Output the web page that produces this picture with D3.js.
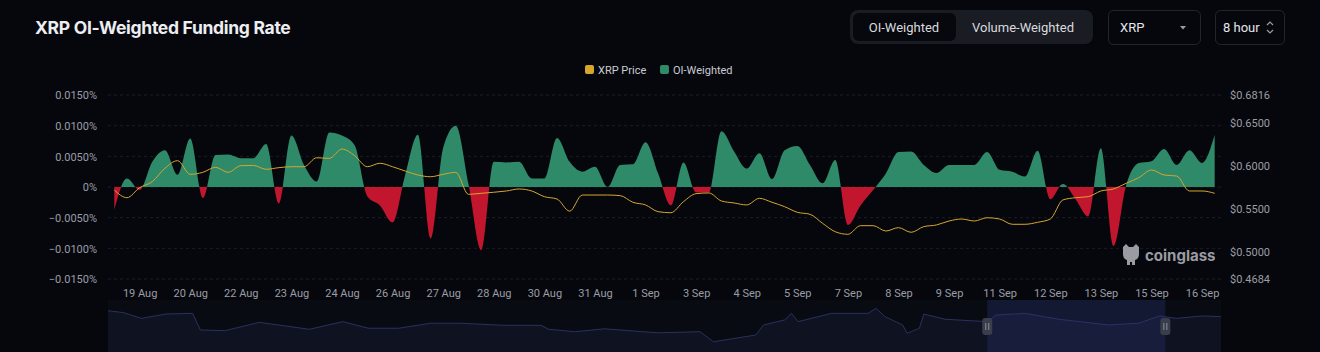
<!DOCTYPE html>
<html>
<head>
<meta charset="utf-8">
<script src="https://cdn.jsdelivr.net/npm/d3@7"></script>
<style>
  html, body { margin: 0; padding: 0; background: #06070d; }
  svg { display: block; }
  text { font-family: Roboto, "Noto Sans", sans-serif; }
  .axis-label { fill: #9a9da6; font-size: 11px; }
</style>
</head>
<body>
<div id="chart"></div>
<script>
// 8-hour funding rate (in %), from 18 Aug 16:00 to 16 Sep 16:00
const fundingRate = [
  -0.0037, 0.0014, -0.0005, 0.0041, 0.0060, 0.0020, 0.0079, -0.0018, 0.0052, 0.0053,
  0.0047, 0.0047, 0.0070, -0.0027, 0.0084, 0.0036, 0.0009, 0.0089, 0.0084, 0.0068,
  -0.0015, -0.0030, -0.0058, 0.0020, 0.0085, -0.0084, 0.0064, 0.0100, 0.0005, -0.0103,
  0.0041, 0.0040, 0.0041, 0.0014, 0.0014, 0.0080, 0.0041, 0.0025, 0.0033, 0.0000,
  0.0036, 0.0037, 0.0073, 0.0022, -0.0030, 0.0040, -0.0009, -0.0009, 0.0091, 0.0058,
  0.0030, 0.0055, 0.0013, 0.0060, 0.0067, 0.0036, 0.0006, 0.0044, -0.0062, -0.0030,
  -0.0005, 0.0022, 0.0057, 0.0058, 0.0036, 0.0023, 0.0036, 0.0036, 0.0036, 0.0057,
  0.0028, 0.0025, 0.0017, 0.0059, -0.0020, 0.0005, -0.0020, -0.0048, 0.0063, -0.0096,
  0.0003, 0.0039, 0.0042, 0.0062, 0.0036, 0.0060, 0.0039, 0.0085
];

// XRP price (USD) at the same timestamps
const xrpPrice = [
  0.5715, 0.5626, 0.5742, 0.5812, 0.5967, 0.6055, 0.5897, 0.5920, 0.5978, 0.5920,
  0.5997, 0.6000, 0.5955, 0.5974, 0.5985, 0.5985, 0.6089, 0.6082, 0.6190, 0.6113,
  0.5985, 0.6025, 0.5985, 0.5935, 0.5889, 0.5869, 0.5897, 0.5920, 0.5665, 0.5677,
  0.5689, 0.5704, 0.5727, 0.5704, 0.5638, 0.5611, 0.5470, 0.5657, 0.5657, 0.5657,
  0.5650, 0.5573, 0.5542, 0.5464, 0.5452, 0.5580, 0.5673, 0.5681, 0.5588, 0.5565,
  0.5542, 0.5619, 0.5573, 0.5522, 0.5457, 0.5434, 0.5329, 0.5232, 0.5202, 0.5302,
  0.5302, 0.5240, 0.5279, 0.5225, 0.5291, 0.5310, 0.5356, 0.5379, 0.5356, 0.5394,
  0.5379, 0.5318, 0.5318, 0.5341, 0.5379, 0.5600, 0.5626, 0.5638, 0.5704, 0.5727,
  0.5793, 0.5858, 0.5947, 0.5889, 0.5877, 0.5704, 0.5704, 0.5677
];

// x-axis labels, one every 4 periods starting at 19 Aug 08:00 (index 2)
const dateLabels = ['19 Aug', '20 Aug', '22 Aug', '23 Aug', '24 Aug', '26 Aug', '27 Aug', '28 Aug',
  '30 Aug', '31 Aug', '1 Sep', '3 Sep', '4 Sep', '5 Sep', '7 Sep', '8 Sep', '9 Sep', '11 Sep',
  '12 Sep', '13 Sep', '15 Sep', '16 Sep'];
const firstLabelIndex = 2;
const labelEvery = 4;

const leftTicks = [-0.015, -0.010, -0.005, 0, 0.005, 0.010, 0.015];
const rightTicks = [0.4684, 0.5000, 0.5500, 0.6000, 0.6500, 0.6816];

// overview (data zoom) price history: position in % of full range, price
const overviewPos = [0, 1.4, 3.0, 5.2, 7.6, 8.3, 10.5, 13.6, 18.1, 21.1, 23.4, 26.1, 29.0, 31.7,
  35.5, 38.9, 39.6, 42.0, 44.6, 48.0, 49.5, 53.2, 54.4, 58.2, 58.9, 60.8, 61.4, 62.0, 65.0,
  68.3, 69.0, 69.8, 71.4, 71.8, 72.9, 73.3, 75.2, 79.0, 79.8, 82.4, 85.4, 89.9, 92.6, 94.5,
  96.0, 98.3, 100];
const overviewPrice = [0.618, 0.607, 0.574, 0.599, 0.603, 0.507, 0.503, 0.551, 0.511, 0.555,
  0.517, 0.517, 0.546, 0.546, 0.534, 0.534, 0.511, 0.497, 0.514, 0.497, 0.491, 0.497, 0.439,
  0.478, 0.536, 0.565, 0.603, 0.555, 0.603, 0.603, 0.632, 0.584, 0.536, 0.488, 0.517, 0.599,
  0.569, 0.555, 0.593, 0.603, 0.569, 0.536, 0.546, 0.588, 0.574, 0.588, 0.584];
const overviewWindow = [79, 95]; // selected range in %

const W = 1320, H = 352;
const plot = {left: 108, right: 1221, top: 95, bottom: 279};
const green = '#2f8a69', red = '#c2162e', gold = '#d6a62f';

const svg = d3.select('#chart').append('svg')
  .attr('width', W).attr('height', H);

svg.append('rect').attr('width', W).attr('height', H).attr('fill', '#06070d');

// ---- header ----
svg.append('text')
  .attr('x', 35).attr('y', 34)
  .style('font-family', 'Inter, "Open Sans", sans-serif')
  .style('font-weight', 700).style('font-size', '17.5px')
  .style('letter-spacing', '-0.3px')
  .attr('fill', '#eceef1')
  .text('XRP OI-Weighted Funding Rate');

const hdr = svg.append('g').style('font-family', 'Inter, "Open Sans", sans-serif').style('font-size', '13px');
hdr.append('rect').attr('x', 850).attr('y', 10).attr('width', 243).attr('height', 34)
  .attr('rx', 8).attr('fill', '#1a1c24');
hdr.append('rect').attr('x', 853).attr('y', 13).attr('width', 103).attr('height', 28)
  .attr('rx', 6).attr('fill', '#07080e');
hdr.append('text').attr('x', 904).attr('y', 32).attr('text-anchor', 'middle')
  .attr('fill', '#d8dade').text('OI-Weighted');
hdr.append('text').attr('x', 1023).attr('y', 32).attr('text-anchor', 'middle')
  .attr('fill', '#d8dade').text('Volume-Weighted');

hdr.append('rect').attr('x', 1108.5).attr('y', 10.5).attr('width', 92).attr('height', 34)
  .attr('rx', 5).attr('fill', 'none').attr('stroke', '#23252e');
hdr.append('text').attr('x', 1120).attr('y', 32).attr('fill', '#e4e6ea').text('XRP');
hdr.append('path').attr('d', 'M1180,26 l6,0 l-3,3.5 z').attr('fill', '#9a9da6');

hdr.append('rect').attr('x', 1215.5).attr('y', 10.5).attr('width', 69).attr('height', 34)
  .attr('rx', 5).attr('fill', 'none').attr('stroke', '#23252e');
hdr.append('text').attr('x', 1223).attr('y', 32).attr('fill', '#e4e6ea').text('8 hour');
hdr.append('path').attr('d', 'M1267,25 l3,-3 l3,3 M1267,30 l3,3 l3,-3')
  .attr('fill', 'none').attr('stroke', '#9a9da6').attr('stroke-width', 1.2);

// ---- legend ----
const legend = svg.append('g').style('font-size', '11px');
[{label: 'XRP Price', color: gold, x: 585}, {label: 'OI-Weighted', color: green, x: 660}].forEach(d => {
  legend.append('rect').attr('x', d.x).attr('y', 65).attr('width', 9).attr('height', 9)
    .attr('rx', 2).attr('fill', d.color);
  legend.append('text').attr('x', d.x + 13).attr('y', 73.5).attr('fill', '#c9ccd2').text(d.label);
});

// ---- scales ----
const idx = d3.range(fundingRate.length);
const x = d3.scalePoint().domain(idx).range([plot.left, plot.right]).padding(0.5);
const yL = d3.scaleLinear().domain([-0.015, 0.015]).range([plot.bottom, plot.top]);
const yR = d3.scaleLinear().domain([0.4684, 0.6816]).range([plot.bottom, plot.top]);

// grid
svg.append('g').selectAll('line').data(leftTicks).join('line')
  .attr('x1', plot.left).attr('x2', plot.right)
  .attr('y1', d => yL(d)).attr('y2', d => yL(d))
  .attr('stroke', '#1b1d26').attr('stroke-dasharray', '3,3');

// left axis
const fmtPct = d => d === 0 ? '0%' : d3.format('.4f')(d) + '%';
svg.append('g').attr('transform', `translate(${plot.left - 8},0)`)
  .call(d3.axisLeft(yL).tickValues(leftTicks).tickFormat(fmtPct).tickSize(0))
  .call(g => g.select('.domain').remove())
  .call(g => g.selectAll('text').attr('class', 'axis-label').attr('dy', '0.35em'));

// right axis
svg.append('g').attr('transform', `translate(${plot.right + 6},0)`)
  .call(d3.axisRight(yR).tickValues(rightTicks).tickFormat(d => '$' + d3.format('.4f')(d)).tickSize(0))
  .call(g => g.select('.domain').remove())
  .call(g => g.selectAll('text').attr('class', 'axis-label').attr('dy', '0.35em'));

// bottom axis
const tickIdx = dateLabels.map((_, i) => firstLabelIndex + i * labelEvery);
svg.append('g').attr('transform', `translate(0,${plot.bottom + 7})`)
  .call(d3.axisBottom(x).tickValues(tickIdx)
    .tickFormat(d => dateLabels[(d - firstLabelIndex) / labelEvery]).tickSize(0))
  .call(g => g.select('.domain').remove())
  .call(g => g.selectAll('text').attr('class', 'axis-label').attr('dy', '0.71em'));

// ---- funding area, split at zero ----
const defs = svg.append('defs');
defs.append('clipPath').attr('id', 'clip-pos').append('rect')
  .attr('x', plot.left).attr('y', 0).attr('width', plot.right - plot.left).attr('height', yL(0));
defs.append('clipPath').attr('id', 'clip-neg').append('rect')
  .attr('x', plot.left).attr('y', yL(0)).attr('width', plot.right - plot.left).attr('height', H - yL(0));

const area = d3.area()
  .x(i => x(i)).y0(yL(0)).y1(i => yL(fundingRate[i]))
  .curve(d3.curveMonotoneX);

svg.append('path').datum(idx).attr('d', area).attr('fill', green).attr('clip-path', 'url(#clip-pos)');
svg.append('path').datum(idx).attr('d', area).attr('fill', red).attr('clip-path', 'url(#clip-neg)');

// ---- price line ----
const line = d3.line().x(i => x(i)).y(i => yR(xrpPrice[i])).curve(d3.curveMonotoneX);
svg.append('path').datum(idx).attr('d', line)
  .attr('fill', 'none').attr('stroke', gold).attr('stroke-width', 1);

// ---- watermark ----
const wm = svg.append('g').attr('transform', 'translate(1120,243)').attr('fill', '#9a9ca3');
wm.append('path').attr('d', 'M3,4 l3,-3 l3,3 l4,0 l3,-3 l3,3 l0,7 q0,5 -4,6 l0,5 l-3,0 l0,-3 l-2,0 l0,3 l-3,0 l0,-5 q-4,-1 -4,-6 z');
wm.append('text').attr('x', 25).attr('y', 18)
  .style('font-family', 'Inter, "Open Sans", sans-serif')
  .style('font-size', '15px').style('font-weight', 700).text('coinglass');

// ---- data zoom overview ----
const oz = {top: 300, bottom: 352};
const ox = d3.scaleLinear().domain([0, 100]).range([plot.left, plot.right]);
const oy = d3.scaleLinear().domain([0.38, 0.68]).range([oz.bottom, oz.top]);
svg.append('rect').attr('x', plot.left).attr('y', oz.top)
  .attr('width', plot.right - plot.left).attr('height', oz.bottom - oz.top).attr('fill', '#090b13');
const oArea = d3.area().x((d, i) => ox(overviewPos[i])).y0(oz.bottom).y1(d => oy(d));
const oLine = d3.line().x((d, i) => ox(overviewPos[i])).y(d => oy(d));
svg.append('path').datum(overviewPrice).attr('d', oArea).attr('fill', '#0f1220');
svg.append('path').datum(overviewPrice).attr('d', oLine)
  .attr('fill', 'none').attr('stroke', '#283160').attr('stroke-width', 1);
svg.append('rect').attr('x', ox(overviewWindow[0])).attr('y', oz.top)
  .attr('width', ox(overviewWindow[1]) - ox(overviewWindow[0])).attr('height', oz.bottom - oz.top)
  .attr('fill', '#2a3570').attr('opacity', 0.35);
overviewWindow.forEach(p => {
  const hx = ox(p);
  svg.append('rect').attr('x', hx - 5).attr('y', 318).attr('width', 10).attr('height', 17)
    .attr('rx', 3).attr('fill', '#3a3e4b');
  svg.append('path').attr('d', `M${hx - 1.5},323 v7 M${hx + 1.5},323 v7`)
    .attr('stroke', '#8a8e99').attr('stroke-width', 1);
});
</script>
</body>
</html>
